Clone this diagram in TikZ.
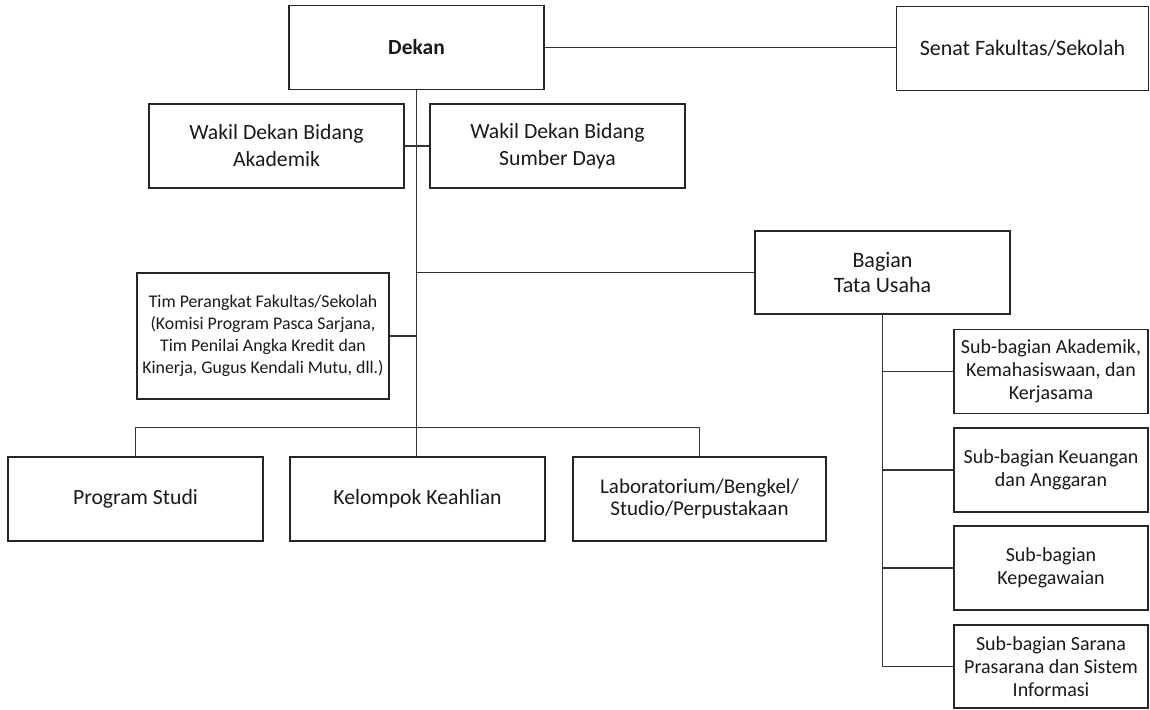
\documentclass[tikz,border=0pt]{standalone}
\usepackage{fontspec}
\setmainfont{Carlito}
\begin{document}
\begin{tikzpicture}[x=1pt,y=-1pt,
  box/.style={draw=black!85, line width=1.2pt, align=center, inner sep=0pt,
    text=black!90, minimum width=255pt, minimum height=84pt,
    font=\fontsize{21.7}{27}\selectfont},
  subbox/.style={box, minimum width=194pt, minimum height=84pt,
    font=\fontsize{20}{23}\selectfont},
  conn/.style={draw=black!80, line width=1.2pt}]
\useasboundingbox (0,0) rectangle (1150,709);

\node[box, font=\bfseries\fontsize{21.5}{26}\selectfont] (dekan) at (416.5,47.5) {Dekan};
\node[box, minimum width=252pt, font=\fontsize{22}{27}\selectfont] (senat) at (1022.5,48.5) {Senat Fakultas/Sekolah};
\node[box] (wak) at (276.5,146) {Wakil Dekan Bidang\\Akademik};
\node[box] (wsd) at (557.5,146) {Wakil Dekan Bidang\\Sumber Daya};
\node[box, minimum height=83pt, font=\fontsize{22}{25}\selectfont] (bagian) at (882.5,272.5) {Bagian\\Tata Usaha};
\node[box, minimum width=252pt, minimum height=126pt, font=\fontsize{17.8}{22}\selectfont] (tim) at (263,336)
  {Tim Perangkat Fakultas/Sekolah\\(Komisi Program Pasca Sarjana,\\Tim Penilai Angka Kredit dan\\Kinerja, Gugus Kendali Mutu, dll.)};
\node[box] (prodi) at (135.5,499) {Program Studi};
\node[box] (kk) at (417.5,499) {Kelompok Keahlian};
\node[box, minimum width=253pt, font=\fontsize{21}{22}\selectfont] (lab) at (699.5,499) {Laboratorium/Bengkel/\\Studio/Perpustakaan};
\node[subbox] (sb1) at (1051,371.5) {Sub-bagian Akademik,\\Kemahasiswaan, dan\\Kerjasama};
\node[subbox] (sb2) at (1051,470) {Sub-bagian Keuangan\\dan Anggaran};
\node[subbox] (sb3) at (1051,568) {Sub-bagian\\Kepegawaian};
\node[subbox, minimum height=83pt] (sb4) at (1051,666.5) {Sub-bagian Sarana\\Prasarana dan Sistem\\Informasi};

% connectors
\draw[conn] (dekan.east) -- (dekan.east -| senat.west);
\draw[conn] (wak.east) -- (wsd.west);
\draw[conn] (dekan.south) -- (dekan.south |- kk.north);
\draw[conn] (tim.east) -- (tim.east -| dekan.south);
\draw[conn] (bagian.west -| dekan.south) -- (bagian.west);
\coordinate (busL) at ([yshift=29pt]prodi.north);
\draw[conn] (prodi.north) -- (busL) -| (lab.north);
\draw[conn] (bagian.south) -- (bagian.south |- sb4.west) -- (sb4.west);
\draw[conn] (bagian.south |- sb1.west) -- (sb1.west);
\draw[conn] (bagian.south |- sb2.west) -- (sb2.west);
\draw[conn] (bagian.south |- sb3.west) -- (sb3.west);
\end{tikzpicture}
\end{document}
